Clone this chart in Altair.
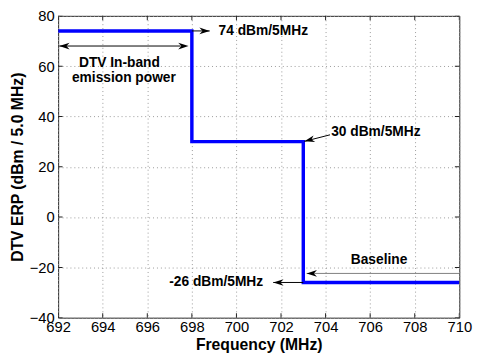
import math
import altair as alt
import pandas as pd

# ---- data ----
freq = [692, 698, 703, 710]          # MHz, step-after breakpoints
erp = [74, 30, -26, -26]             # dBm / 5 MHz

x_ticks = list(range(692, 711, 2))
y_ticks = list(range(-40, 81, 20))

label_text = ["74 dBm/5MHz", "DTV In-band", "emission power",
              "30 dBm/5MHz", "Baseline", "-26 dBm/5MHz"]
label_x = [699.2, 694.75, 694.95, 704.25, 706.4, 701.2]
label_y = [74, 61.4, 55.4, 33.9, -17.0, -26]
label_align = ["left", "center", "center", "left", "center", "right"]

arrow_x1 = [698.0, 697.5, 704.2, 710.0, 703.0]
arrow_y1 = [74, 68, 32.7, -22.4, -26]
arrow_x2 = [698.8, 692.05, 703.05, 703.15, 701.65]
arrow_y2 = [74, 68, 30.1, -22.4, -26]
arrow_col = ["black", "black", "black", "#808080", "black"]

head_x = [698.8, 692.05, 697.85, 703.05, 703.15, 701.65]
head_y = [74, 68, 68, 30.1, -22.4, -26]
head_from_x = [698.0, 697.85, 692.05, 704.2, 710.0, 703.0]
head_from_y = [74, 68, 68, 32.7, -22.4, -26]

W, H = 408, 307
XD, YD = [692, 710], [-40, 80]
pxx = W / (XD[1] - XD[0])
pxy = H / (YD[1] - YD[0])
head_angle = []
for hx, hy, fx, fy in zip(head_x, head_y, head_from_x, head_from_y):
    dx = (hx - fx) * pxx
    dy = -(hy - fy) * pxy
    head_angle.append(math.degrees(math.atan2(dy, dx)) % 360)

step_df = pd.DataFrame({"x": freq, "y": erp})
text_df = pd.DataFrame({"x": label_x, "y": label_y, "t": label_text, "a": label_align})
rule_df = pd.DataFrame({"x": arrow_x1, "y": arrow_y1, "x2": arrow_x2, "y2": arrow_y2, "c": arrow_col})
head_df = pd.DataFrame({"x": head_x, "y": head_y, "ang": head_angle})
xtick_df = pd.DataFrame({"x": x_ticks * 2, "y": [YD[0]] * len(x_ticks) + [YD[1]] * len(x_ticks)})
ytick_df = pd.DataFrame({"y": y_ticks * 2, "x": [XD[0]] * len(y_ticks) + [XD[1]] * len(y_ticks)})

FONT = "Liberation Sans"
xscale = alt.Scale(domain=XD, nice=False, zero=False)
yscale = alt.Scale(domain=YD, nice=False, zero=False)
xaxis = alt.Axis(values=x_ticks, title="Frequency (MHz)",
                 labelFlush=False, ticks=False, labelPadding=2,
                 titleX=W / 2, titleY=27, titleBaseline="middle", titleAlign="center")
yaxis = alt.Axis(values=y_ticks, title="DTV ERP (dBm / 5.0 MHz)",
                 ticks=False, labelPadding=4, labelFlush=False,
                 titleX=-41, titleY=H / 2, titleBaseline="middle", titleAlign="center", titleAngle=-90)

X = alt.X("x:Q", scale=xscale, axis=xaxis)
Y = alt.Y("y:Q", scale=yscale, axis=yaxis)

step = alt.Chart(step_df).mark_line(interpolate="step-after", color="#0000ff",
                                    strokeWidth=3.5, clip=True).encode(x=X, y=Y)

xt = alt.Chart(xtick_df).mark_tick(orient="vertical", size=9, thickness=1,
                                   color="#222222", clip=True, opacity=1).encode(x=X, y=Y)
yt = alt.Chart(ytick_df).mark_tick(orient="horizontal", size=9, thickness=1,
                                   color="#222222", clip=True, opacity=1).encode(x=X, y=Y)

rules = alt.Chart(rule_df).mark_rule(strokeWidth=1).encode(
    x=X, y=Y, x2="x2:Q", y2="y2:Q", color=alt.Color("c:N", scale=None))

heads = alt.Chart(head_df).mark_point(
    shape="M0,0 L-2,-0.65 L-1.4,0 L-2,0.65 Z", size=110, filled=True,
    color="black", opacity=1, strokeWidth=0).encode(
    x=X, y=Y, angle=alt.Angle("ang:Q", scale=None))

text_l = alt.Chart(text_df).transform_filter("datum.a == 'left'").mark_text(
    align="left", baseline="middle", font=FONT, fontSize=14, fontWeight="bold", color="black"
).encode(x=X, y=Y, text="t:N")
text_c = alt.Chart(text_df).transform_filter("datum.a == 'center'").mark_text(
    align="center", baseline="middle", font=FONT, fontSize=14, fontWeight="bold", color="black"
).encode(x=X, y=Y, text="t:N")
text_r = alt.Chart(text_df).transform_filter("datum.a == 'right'").mark_text(
    align="right", baseline="middle", font=FONT, fontSize=14, fontWeight="bold", color="black"
).encode(x=X, y=Y, text="t:N")

chart = alt.layer(xt, yt, step, rules, heads, text_l, text_c, text_r).properties(
    width=W, height=H,
    autosize=alt.AutoSizeParams(type="none"),
    padding={"left": 51, "top": 5, "right": 18, "bottom": 37},
    background="white",
).configure_view(stroke="#222222", strokeWidth=1).configure_axis(
    grid=True, gridColor="#9a9a9a", gridDash=[1, 3], gridWidth=1, domain=False,
    labelFont=FONT, labelFontSize=15, labelColor="black",
    titleFont=FONT, titleFontSize=16, titleFontWeight="bold", titleColor="black",
)

chart.save("out.html", embed_options={"renderer": "svg", "actions": False})
